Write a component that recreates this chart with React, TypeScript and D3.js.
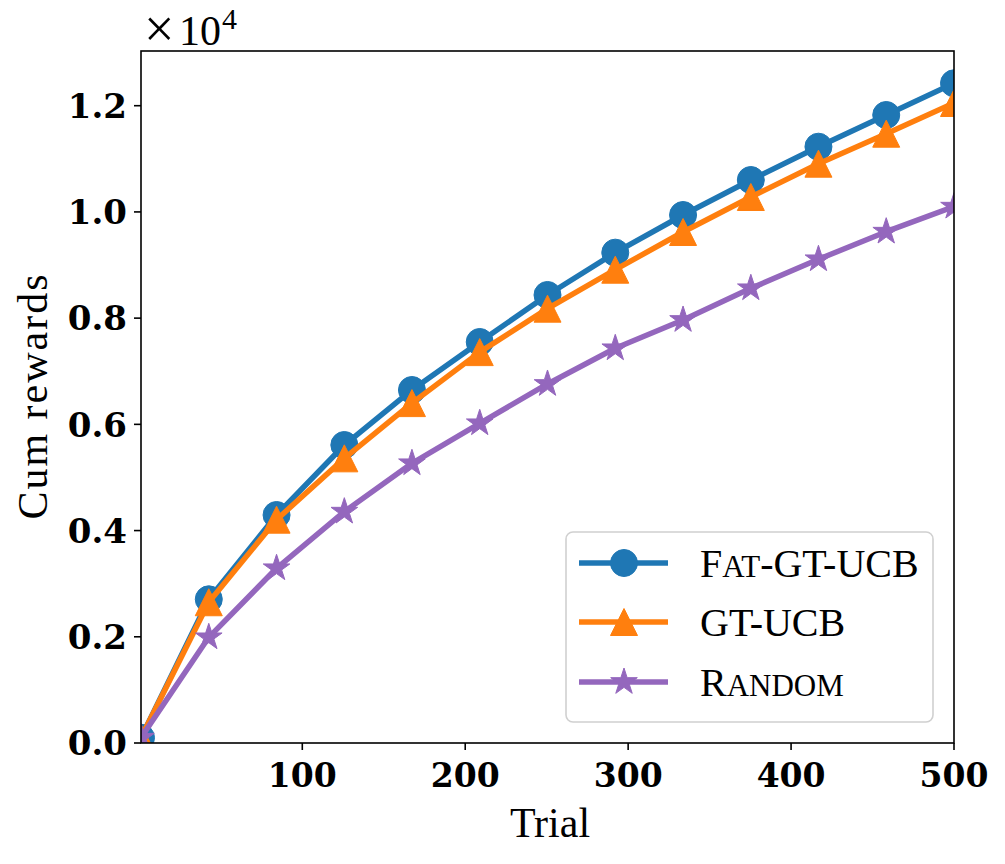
import * as d3 from 'd3';

// cumulative rewards per trial, one value per marker
const trials = [1, 42.6, 84.2, 125.8, 167.3, 208.9, 250.5, 292.1, 333.7, 375.3, 416.8, 458.4, 500];
const fatGtUcb = [100, 2706, 4293, 5611, 6647, 7551, 8436, 9233, 9942, 10601, 11228, 11825, 12422];
const gtUcb = [100, 2650, 4205, 5360, 6400, 7360, 8178, 8912, 9622, 10281, 10908, 11473, 12051];
const randomArm = [100, 1990, 3290, 4356, 5267, 6020, 6760, 7432, 7965, 8562, 9108, 9628, 10099];

const xTicks = [100, 200, 300, 400, 500];
const yTicks = [0, 2000, 4000, 6000, 8000, 10000, 12000];

const W = 1005;
const H = 864;
const M = { left: 141, right: 954, top: 51, bottom: 743 };

const TICK_FONT = '"DejaVu Serif", serif';
const TEXT_FONT = '"Liberation Serif", "Times New Roman", serif';

type Marker = 'circle' | 'triangle' | 'star';

function markerPath(kind: Marker, size: number): string {
  const r = size / 2;
  if (kind === 'circle') return d3.symbol(d3.symbolCircle, Math.PI * r * r)() || '';
  if (kind === 'triangle') return `M0,${-r}L${-r},${r}L${r},${r}Z`;
  // five-pointed star, same inner ratio as matplotlib's '*'
  const inner = r * 0.381966;
  const pts: string[] = [];
  for (let i = 0; i < 10; i++) {
    const a = -Math.PI / 2 + (i * Math.PI) / 5;
    const rr = i % 2 === 0 ? r : inner;
    pts.push(`${(Math.cos(a) * rr).toFixed(2)},${(Math.sin(a) * rr).toFixed(2)}`);
  }
  return `M${pts.join('L')}Z`;
}

const series = [
  { key: 'fat', values: fatGtUcb, color: '#1f77b4', marker: 'circle' as Marker, size: 27 },
  { key: 'gt', values: gtUcb, color: '#ff7f0e', marker: 'triangle' as Marker, size: 27 },
  { key: 'rand', values: randomArm, color: '#9467bd', marker: 'star' as Marker, size: 28 },
];

export default function App() {
  const x = d3.scaleLinear().domain([1, 500]).range([M.left, M.right]);
  const y = d3.scaleLinear().domain([0, 13030]).range([M.bottom, M.top]);

  const line = d3
    .line<number>()
    .x((_, i) => x(trials[i]))
    .y((d) => y(d));

  const legendRows = [
    { s: series[0], y: 563 },
    { s: series[1], y: 622 },
    { s: series[2], y: 682 },
  ];

  return (
    <div style={{ position: 'absolute', left: 0, top: 0 }}>
      <svg width={W} height={H} style={{ display: 'block', background: '#fff' }}>
        <defs>
          <clipPath id="plot-area">
            <rect x={M.left} y={M.top} width={M.right - M.left} height={M.bottom - M.top} />
          </clipPath>
        </defs>

        <g clipPath="url(#plot-area)">
          {series.map((s) => (
            <g key={s.key}>
              <path d={line(s.values) || ''} fill="none" stroke={s.color} strokeWidth={5.5} strokeLinejoin="round" />
              {s.values.map((v, i) => (
                <path
                  key={i}
                  d={markerPath(s.marker, s.size)}
                  transform={`translate(${x(trials[i])},${y(v)})`}
                  fill={s.color}
                  stroke={s.color}
                  strokeWidth={1}
                />
              ))}
            </g>
          ))}
        </g>

        {/* frame */}
        <rect
          x={M.left}
          y={M.top}
          width={M.right - M.left}
          height={M.bottom - M.top}
          fill="none"
          stroke="#000"
          strokeWidth={1.6}
        />

        {/* x axis */}
        {xTicks.map((t) => (
          <g key={t} transform={`translate(${x(t)},${M.bottom})`}>
            <line y1={0} y2={7} stroke="#000" strokeWidth={1.6} />
            <text
              y={44}
              textAnchor="middle"
              fontFamily={TICK_FONT}
              fontWeight="bold"
              fontSize={33}
              fill="#000"
            >
              {t}
            </text>
          </g>
        ))}

        {/* y axis */}
        {yTicks.map((t) => (
          <g key={t} transform={`translate(${M.left},${y(t)})`}>
            <line x1={0} x2={-7} stroke="#000" strokeWidth={1.6} />
            <text
              x={-14}
              dy="0.36em"
              textAnchor="end"
              fontFamily={TICK_FONT}
              fontWeight="bold"
              fontSize={34}
              fill="#000"
            >
              {(t / 10000).toFixed(1)}
            </text>
          </g>
        ))}

        {/* offset label */}
        <text x={144} y={47} fontFamily={TEXT_FONT} fontSize={54} fill="#000">×</text>
        <text x={179} y={45} fontFamily={TEXT_FONT} fontSize={42} fill="#000">10</text>
        <text x={222} y={29} fontFamily={TEXT_FONT} fontSize={30} fill="#000">4</text>

        <text x={550} y={837} textAnchor="middle" fontFamily={TEXT_FONT} fontSize={42} fill="#000">
          Trial
        </text>
        <text
          transform={`translate(47,397) rotate(-90)`}
          textAnchor="middle"
          fontFamily={TEXT_FONT}
          fontSize={42}
          textLength={245}
          lengthAdjust="spacing"
          fill="#000"
        >
          Cum rewards
        </text>

        {/* legend */}
        <rect x={566} y={532} width={367} height={190} rx={7} fill="#fff" fillOpacity={0.8} stroke="#d0d0d0" strokeWidth={1.6} />
        {legendRows.map(({ s, y: ly }) => (
          <g key={s.key}>
            <line x1={579} x2={668} y1={ly} y2={ly} stroke={s.color} strokeWidth={5.5} />
            <path
              d={markerPath(s.marker, s.size)}
              transform={`translate(624,${ly})`}
              fill={s.color}
              stroke={s.color}
              strokeWidth={1}
            />
          </g>
        ))}
        <text x={700} y={577} fontFamily={TEXT_FONT} fontSize={40} fill="#000">
          F<tspan fontSize={31}>AT</tspan>-GT-UCB
        </text>
        <text x={700} y={636} fontFamily={TEXT_FONT} fontSize={40} fill="#000">
          GT-UCB
        </text>
        <text x={700} y={696} fontFamily={TEXT_FONT} fontSize={40} fill="#000">
          R<tspan fontSize={31}>ANDOM</tspan>
        </text>
      </svg>
    </div>
  );
}
